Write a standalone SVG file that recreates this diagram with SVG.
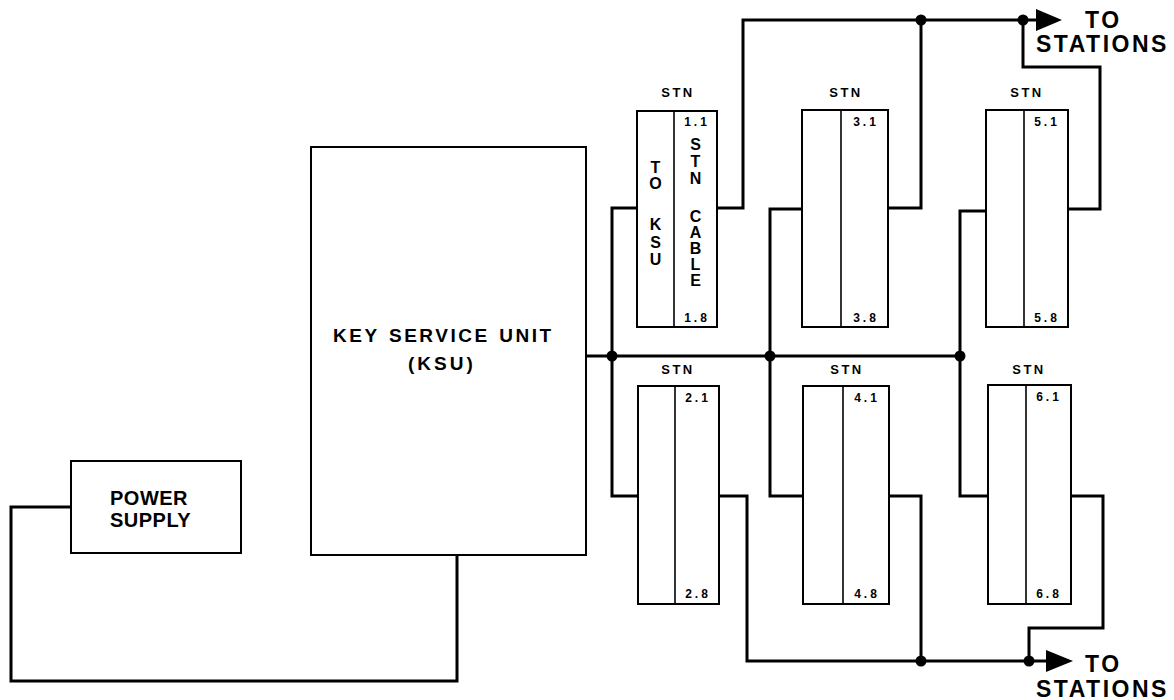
<svg xmlns="http://www.w3.org/2000/svg" width="1174" height="700" viewBox="0 0 1174 700">
<style>
.box{fill:#fff;stroke:#000;stroke-width:2}
.div{stroke:#000;stroke-width:1.6}
.w{fill:none;stroke:#000;stroke-width:3;stroke-linejoin:miter;stroke-linecap:square}
.t{font-family:"Liberation Sans",Arial,sans-serif;font-weight:bold;fill:#000}
.stn{font-size:13px;letter-spacing:2.5px}
.num{font-size:12px;letter-spacing:3px}
.v{font-size:16px}
.big{font-size:23px;letter-spacing:2.5px}
</style>
<rect width="1174" height="700" fill="#fff"/>
<g id="connectors">
<path class="w" d="M71,507 H11 V681 H457 V555"/>
<path class="w" d="M587,356 H960"/>
<path class="w" d="M637,208 H612 V496 H638"/>
<path class="w" d="M802,209 H770 V496 H803"/>
<path class="w" d="M987,211 H960 V496 H988"/>
<path class="w" d="M717,208 H743 V20 H1040"/>
<path class="w" d="M888,208 H921 V20"/>
<path class="w" d="M1068,209 H1100 V67 H1023 V20"/>
<polygon points="1036,9 1062,20 1036,31" fill="#000"/>
<path class="w" d="M719,496 H747 V661 H1050"/>
<path class="w" d="M889,496 H921 V661"/>
<path class="w" d="M1071,496 H1103 V628 H1029 V661"/>
<polygon points="1046,650 1073,661 1046,672" fill="#000"/>
<circle cx="612" cy="356" r="5.5"/>
<circle cx="770" cy="356" r="5.5"/>
<circle cx="960" cy="356" r="5.5"/>
<circle cx="921" cy="20" r="5.5"/>
<circle cx="1023" cy="20" r="5.5"/>
<circle cx="921" cy="661" r="5.5"/>
<circle cx="1029" cy="661" r="5.5"/>
</g>
<g id="labels-out">
<text class="t big" x="1085" y="28">TO</text>
<text class="t big" x="1036" y="52">STATIONS</text>
<text class="t big" x="1085" y="672">TO</text>
<text class="t big" x="1036" y="697">STATIONS</text>
</g>
<g id="power-supply">
<rect class="box" x="71" y="461" width="170" height="92"/>
<text class="t" x="110" y="505" font-size="20" letter-spacing="0.5">POWER</text>
<text class="t" x="110" y="527" font-size="20" letter-spacing="0.5">SUPPLY</text>
</g>
<g id="ksu">
<rect class="box" x="311" y="147" width="275" height="408"/>
<text class="t" x="333" y="342" font-size="19" letter-spacing="2.5" word-spacing="2">KEY SERVICE UNIT</text>
<text class="t" x="408" y="370" font-size="19" letter-spacing="3">(KSU)</text>
</g>
<g id="stn1">
<text class="t stn" x="678" y="97" text-anchor="middle">STN</text>
<rect class="box" x="637" y="111" width="80" height="216"/>
<line class="div" x1="674" y1="111" x2="674" y2="327"/>
<text class="t num" x="697" y="126" text-anchor="middle">1.1</text>
<text class="t num" x="697" y="322" text-anchor="middle">1.8</text>
<g class="t v" text-anchor="middle">
<text x="655.5" y="173">T</text>
<text x="655.5" y="189">O</text>
<text x="655.5" y="230">K</text>
<text x="655.5" y="248">S</text>
<text x="655.5" y="265">U</text>
<text x="695.5" y="150">S</text>
<text x="695.5" y="167">T</text>
<text x="695.5" y="184">N</text>
<text x="695.5" y="222">C</text>
<text x="695.5" y="238">A</text>
<text x="695.5" y="254">B</text>
<text x="695.5" y="270">L</text>
<text x="695.5" y="286">E</text>
</g>
</g>
<g id="stn2">
<text class="t stn" x="678" y="374" text-anchor="middle">STN</text>
<rect class="box" x="638" y="386" width="81" height="218"/>
<line class="div" x1="675" y1="386" x2="675" y2="604"/>
<text class="t num" x="698" y="402" text-anchor="middle">2.1</text>
<text class="t num" x="698" y="598" text-anchor="middle">2.8</text>
</g>
<g id="stn3">
<text class="t stn" x="846" y="97" text-anchor="middle">STN</text>
<rect class="box" x="802" y="110" width="86" height="217"/>
<line class="div" x1="841" y1="110" x2="841" y2="327"/>
<text class="t num" x="866" y="126" text-anchor="middle">3.1</text>
<text class="t num" x="866" y="322" text-anchor="middle">3.8</text>
</g>
<g id="stn4">
<text class="t stn" x="847" y="374" text-anchor="middle">STN</text>
<rect class="box" x="803" y="386" width="86" height="218"/>
<line class="div" x1="843" y1="386" x2="843" y2="604"/>
<text class="t num" x="867" y="402" text-anchor="middle">4.1</text>
<text class="t num" x="867" y="598" text-anchor="middle">4.8</text>
</g>
<g id="stn5">
<text class="t stn" x="1027" y="97" text-anchor="middle">STN</text>
<rect class="box" x="986" y="110" width="82" height="217"/>
<line class="div" x1="1024" y1="110" x2="1024" y2="327"/>
<text class="t num" x="1047" y="126" text-anchor="middle">5.1</text>
<text class="t num" x="1047" y="322" text-anchor="middle">5.8</text>
</g>
<g id="stn6">
<text class="t stn" x="1029" y="374" text-anchor="middle">STN</text>
<rect class="box" x="988" y="385" width="83" height="219"/>
<line class="div" x1="1026" y1="385" x2="1026" y2="604"/>
<text class="t num" x="1049" y="401" text-anchor="middle">6.1</text>
<text class="t num" x="1049" y="598" text-anchor="middle">6.8</text>
</g>
</svg>
